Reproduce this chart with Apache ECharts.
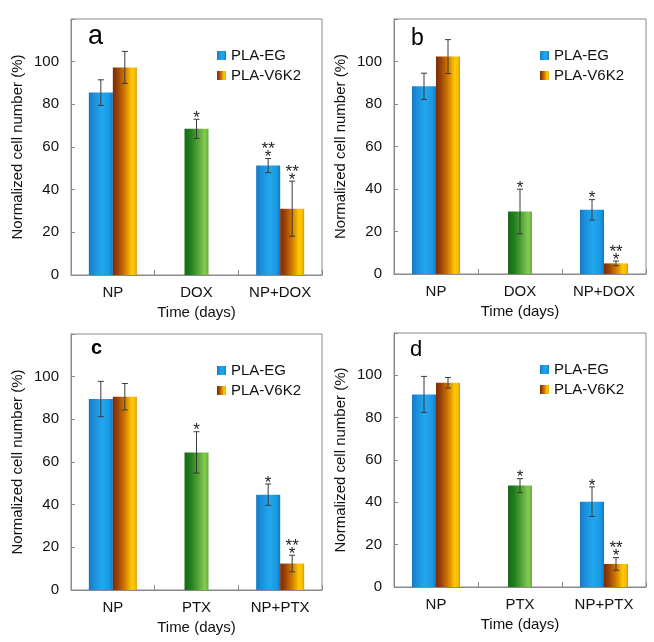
<!DOCTYPE html>
<html>
<head>
<meta charset="utf-8">
<script src="https://cdn.jsdelivr.net/npm/echarts@6/dist/echarts.min.js"></script>
<style>html,body{margin:0;padding:0;background:#fff}#c{width:654px;height:642px}</style>
</head>
<body>
<div id="c"></div>
<script>
// ---------- DATA ----------
var catsDOX = ['NP', 'DOX', 'NP+DOX'];
var catsPTX = ['NP', 'PTX', 'NP+PTX'];
var yTicks = [0, 20, 40, 60, 80, 100];

// panel a
var aEG = [85.5, null, 51.3],  aEGErr = [6.0, null, 3.3],  aEGSig = ['', '', '**\n*'];
var aV6 = [97.3, null, 31.1],  aV6Err = [7.5, null, 12.9], aV6Sig = ['', '', '**\n*'];
var aDrug = [null, 68.5, null], aDrugErr = [null, 4.5, null], aDrugSig = ['', '*', ''];
// panel b
var bEG = [88.3, null, 30.2],  bEGErr = [6.2, null, 4.8],  bEGSig = ['', '', '*'];
var bV6 = [102.3, null, 5.0],  bV6Err = [8.0, null, 1.1],  bV6Sig = ['', '', '**\n*'];
var bDrug = [null, 29.4, null], bDrugErr = [null, 10.5, null], bDrugSig = ['', '*', ''];
// panel c
var cEG = [89.5, null, 44.7],  cEGErr = [8.3, null, 5.0],  cEGSig = ['', '', '*'];
var cV6 = [90.6, null, 12.4],  cV6Err = [6.2, null, 3.9],  cV6Sig = ['', '', '**\n*'];
var cDrug = [null, 64.5, null], cDrugErr = [null, 9.7, null], cDrugSig = ['', '*', ''];
// panel d
var dEG = [91.0, null, 40.3],  dEGErr = [8.5, null, 7.0],  dEGSig = ['', '', '*'];
var dV6 = [96.5, null, 10.9],  dV6Err = [2.5, null, 3.0],  dV6Sig = ['', '', '**\n*'];
var dDrug = [null, 47.9, null], dDrugErr = [null, 3.3, null], dDrugSig = ['', '*', ''];

var seriesNames = ['PLA-EG', 'PLA-V6K2'];
var panelLetters = ['a', 'b', 'c', 'd'];

// ---------- STYLE / LAYOUT ----------
var FONT = 'Liberation Sans, Arial, sans-serif';
var BAR_W = 24;
function grad(stops) {
  return new echarts.graphic.LinearGradient(0, 0, 1, 0, stops.map(function (s) { return { offset: s[0], color: s[1] }; }));
}
var blueGrad = grad([[0, '#1677c4'], [0.15, '#1a8ad6'], [0.55, '#22a8f0'], [0.85, '#1b98e2'], [1, '#0f78c8']]);
var orangeGrad = grad([[0, '#7a2c06'], [0.2, '#9a4208'], [0.5, '#d07a02'], [0.78, '#ffc800'], [0.92, '#f8c000'], [1, '#d89000']]);
var greenGrad = grad([[0, '#176a17'], [0.25, '#1f7d1d'], [0.6, '#5aa83a'], [0.85, '#86cc52'], [1, '#5fae3e']]);

var panels = [
  { cats: catsDOX, eg: aEG, egErr: aEGErr, egSig: aEGSig, v6: aV6, v6Err: aV6Err, v6Sig: aV6Sig, drug: aDrug, drugErr: aDrugErr, drugSig: aDrugSig,
    grid: { left: 71, top: 19, width: 251, height: 256 }, letter: { x: 88, y: 50, size: 27, weight: 'normal' } },
  { cats: catsDOX, eg: bEG, egErr: bEGErr, egSig: bEGSig, v6: bV6, v6Err: bV6Err, v6Sig: bV6Sig, drug: bDrug, drugErr: bDrugErr, drugSig: bDrugSig,
    grid: { left: 394, top: 19, width: 252, height: 255 }, letter: { x: 411, y: 50, size: 23, weight: 'normal' } },
  { cats: catsPTX, eg: cEG, egErr: cEGErr, egSig: cEGSig, v6: cV6, v6Err: cV6Err, v6Sig: cV6Sig, drug: cDrug, drugErr: cDrugErr, drugSig: cDrugSig,
    grid: { left: 71, top: 334, width: 251, height: 256 }, letter: { x: 91, y: 358, size: 20, weight: 'bold' } },
  { cats: catsPTX, eg: dEG, egErr: dEGErr, egSig: dEGSig, v6: dV6, v6Err: dV6Err, v6Sig: dV6Sig, drug: dDrug, drugErr: dDrugErr, drugSig: dDrugSig,
    grid: { left: 394, top: 333, width: 252, height: 254 }, letter: { x: 410, y: 361, size: 22, weight: 'normal' } }
];

var grids = [], xAxes = [], yAxes = [], series = [], legends = [], graphics = [];

function errRender(params, api, sigs) {
  var cat = api.value(0), mean = api.value(1), err = api.value(2), off = api.value(3), sig = sigs[params.dataIndex];
  var x = api.coord([cat, mean])[0] + off * BAR_W / 2;
  var yTop = api.coord([cat, mean + err])[1];
  var yBot = api.coord([cat, mean - err])[1];
  var ls = { stroke: '#3a3a3a', lineWidth: 1 };
  var cap = 3;
  var children = [
    { type: 'line', shape: { x1: x, y1: yTop, x2: x, y2: yBot }, style: ls },
    { type: 'line', shape: { x1: x - cap, y1: yTop, x2: x + cap, y2: yTop }, style: ls },
    { type: 'line', shape: { x1: x - cap, y1: yBot, x2: x + cap, y2: yBot }, style: ls }
  ];
  if (sig) {
    var lines = sig.split('\n');
    for (var i = 0; i < lines.length; i++) {
      var k = lines.length - 1 - i;
      children.push({ type: 'text', style: { text: lines[i], x: x, y: yTop - 1 - k * 8, align: 'center', verticalAlign: 'middle',
        fontSize: 17, fontFamily: FONT, fill: '#222' } });
    }
  }
  return { type: 'group', children: children };
}

panels.forEach(function (p, i) {
  grids.push({ left: p.grid.left, top: p.grid.top, width: p.grid.width, height: p.grid.height, show: true,
    borderColor: '#8a8a8a', borderWidth: 1, backgroundColor: 'transparent' });
  xAxes.push({ type: 'category', gridIndex: i, data: p.cats,
    axisLine: { show: true, lineStyle: { color: '#8a8a8a' } },
    axisTick: { show: true, inside: true, length: 5, lineStyle: { color: '#8a8a8a' } },
    axisLabel: { color: '#111', fontSize: 15, fontFamily: FONT, margin: 10 },
    name: 'Time (days)', nameLocation: 'middle', nameGap: 30,
    nameTextStyle: { color: '#111', fontSize: 15, fontFamily: FONT } });
  xAxes.push({ type: 'category', gridIndex: i, data: p.cats, show: false });
  yAxes.push({ type: 'value', gridIndex: i, min: 0, max: 120, interval: 20,
    axisLine: { show: true, lineStyle: { color: '#8a8a8a' } },
    axisTick: { show: true, inside: true, length: 4, lineStyle: { color: '#8a8a8a' } },
    splitLine: { show: false },
    axisLabel: { color: '#111', fontSize: 15, fontFamily: FONT, margin: 12,
      formatter: function (v) { return yTicks.indexOf(v) >= 0 ? String(v) : ''; } },
    name: 'Normalized cell number (%)', nameLocation: 'middle', nameGap: 46,
    nameTextStyle: { color: '#111', fontSize: 15, fontFamily: FONT } });

  series.push({ name: seriesNames[0], type: 'bar', xAxisIndex: 2 * i, yAxisIndex: i, data: p.eg,
    barWidth: BAR_W, barGap: '0%', itemStyle: { color: blueGrad }, silent: true });
  series.push({ name: seriesNames[1], type: 'bar', xAxisIndex: 2 * i, yAxisIndex: i, data: p.v6,
    barWidth: BAR_W, barGap: '0%', itemStyle: { color: orangeGrad }, silent: true });
  series.push({ name: 'drug' + i, type: 'bar', xAxisIndex: 2 * i + 1, yAxisIndex: i, data: p.drug,
    barWidth: BAR_W, itemStyle: { color: greenGrad }, silent: true });

  var errData = [], sigs = [];
  [[p.eg, p.egErr, p.egSig, -1], [p.v6, p.v6Err, p.v6Sig, 1], [p.drug, p.drugErr, p.drugSig, 0]].forEach(function (s) {
    for (var j = 0; j < 3; j++) {
      if (s[0][j] != null) { errData.push([j, s[0][j], s[1][j], s[3]]); sigs.push(s[2][j]); }
    }
  });
  series.push({ type: 'custom', name: 'err' + i, xAxisIndex: 2 * i, yAxisIndex: i, data: errData, z: 10, silent: true,
    renderItem: function (params, api) { return errRender(params, api, sigs); } });

  legends.push({ data: seriesNames.map(function (n) { return { name: n, icon: 'rect' }; }),
    orient: 'vertical', left: p.grid.left + 146, top: p.grid.top + 29, itemWidth: 9, itemHeight: 9, itemGap: 5,
    padding: 0, textStyle: { color: '#111', fontSize: 15, fontFamily: FONT }, selectedMode: false });

  graphics.push({ type: 'text', left: p.letter.x, top: p.letter.y - p.letter.size, style: { text: panelLetters[i],
    fontSize: p.letter.size, fontWeight: p.letter.weight, fontFamily: FONT, fill: '#000' } });
});

var chart = echarts.init(document.getElementById('c'), null, { renderer: 'canvas' });
chart.setOption({
  animation: false,
  backgroundColor: '#fff',
  grid: grids, xAxis: xAxes, yAxis: yAxes, series: series, legend: legends, graphic: graphics
});
</script>
</body>
</html>
